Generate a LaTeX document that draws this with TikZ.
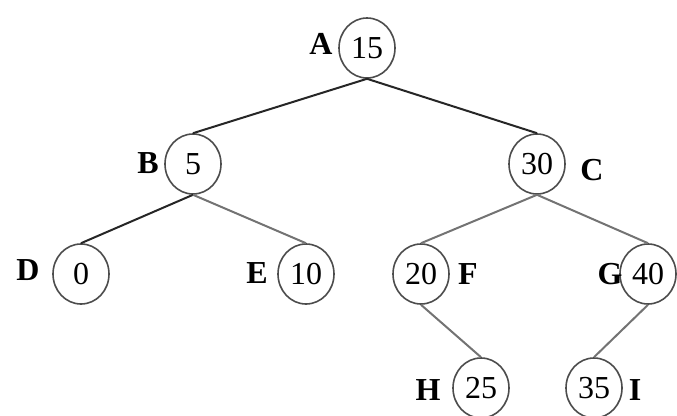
\documentclass[tikz,border=0pt]{standalone}
\usepackage{fontspec}
\setmainfont{Liberation Serif}
\usetikzlibrary{shapes.geometric}
\begin{document}
\begin{tikzpicture}[x=1pt,y=-1pt,
  vnode/.style={ellipse,draw=black!70,line width=1.6pt,minimum width=56pt,minimum height=60pt,inner sep=0pt,font=\fontsize{32}{32}\selectfont},
  lbl/.style={font=\fontsize{32}{32}\selectfont\bfseries,inner sep=0pt},
  dark/.style={draw=black!85,line width=2pt},
  light/.style={draw=black!55,line width=2pt}]
\useasboundingbox (0,0) rectangle (677,415);
\node[vnode] (A) at (367,48) {15};
\node[vnode] (B) at (193,164) {5};
\node[vnode] (C) at (537,164) {30};
\node[vnode] (D) at (81,274) {0};
\node[vnode] (E) at (306,274) {10};
\node[vnode] (F) at (421,274) {20};
\node[vnode] (G) at (648,274) {40};
\node[vnode] (H) at (481,388) {25};
\node[vnode] (I) at (594,388) {35};
\node[lbl] (lA) at (321,44) {A};
\node[lbl] (lB) at (148,163) {B};
\node[lbl] (lC) at (592,170) {C};
\node[lbl] (lD) at (28,270) {D};
\node[lbl] (lE) at (257,273) {E};
\node[lbl] (lF) at (468,274) {F};
\node[lbl] (lG) at (610,274) {G};
\node[lbl] (lH) at (428,390) {H};
\node[lbl] (lI) at (635,390) {I};
\draw[dark] (A.south) -- (B.north);
\draw[dark] (A.south) -- (C.north);
\draw[dark] (B.south) -- (D.north);
\draw[light] (B.south) -- (E.north);
\draw[light] (C.south) -- (F.north);
\draw[light] (C.south) -- (G.north);
\draw[light] (F.south) -- (H.north);
\draw[light] (G.south) -- (I.north);
\end{tikzpicture}
\end{document}
